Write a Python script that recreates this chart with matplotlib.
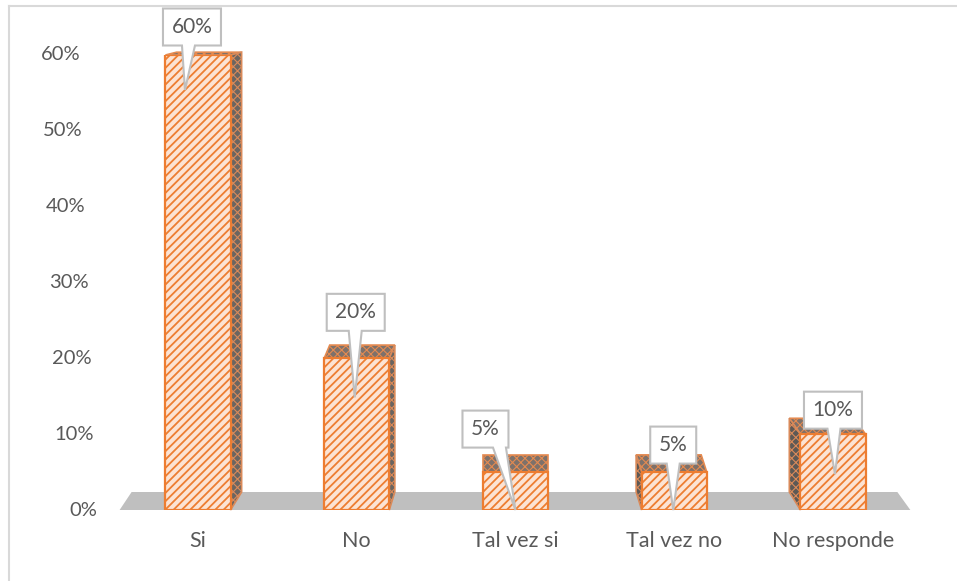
import matplotlib
matplotlib.use('Agg')
import matplotlib.pyplot as plt
from matplotlib.patches import Polygon
from matplotlib.transforms import IdentityTransform
from matplotlib.lines import Line2D

# data
categories = ['Si', 'No', 'Tal vez si', 'Tal vez no', 'No responde']
values = [0.60, 0.20, 0.05, 0.05, 0.10]
yticks = [0.0, 0.1, 0.2, 0.3, 0.4, 0.5, 0.6]

# callout placement in pixels, relative to bar top centre: (box dx, box up, tip dx, tip down)
callout_pos = [(-6, 28, -13, 35), (-1, 46, -2, 39), (-30, 43, 0, 38),
               (-1, 27, -1, 38), (0, 24, 2, 40)]

orange = '#ED7D31'
grey_txt = '#595959'

plt.rcParams['font.family'] = ['Lato', 'DejaVu Sans']
plt.rcParams['hatch.linewidth'] = 1.3

W, H = 957, 581
fig = plt.figure(figsize=(W / 100, H / 100), dpi=100)
ax = fig.add_axes([118.6 / W, (H - 510) / H, 793.75 / W, 455 / H])
ax.set_xlim(-0.5, 4.5)
ax.set_ylim(0, 0.6)
ax.axis('off')

ID = IdentityTransform()


def px(x, y):
    # image pixel (y down) -> display coords
    return (x, H - y)


def to_img(xd, yd):
    dx, dy = ax.transData.transform((xd, yd))
    return dx, H - dy


def poly(pts, hlw=None, **kw):
    p = Polygon([px(*p) for p in pts], closed=True, transform=ID, clip_on=False, **kw)
    if hlw is not None and hasattr(p, 'set_hatch_linewidth'):
        p.set_hatch_linewidth(hlw)
    ax.add_patch(p)
    return p


# frame lines
fig.add_artist(Line2D([9, W], [H - 6, H - 6], transform=ID, color='#D9D9D9', lw=1.5))
fig.add_artist(Line2D([9, 9], [0, H - 6], transform=ID, color='#D9D9D9', lw=1.5))

# floor
x0, y0 = to_img(-0.5, 0)
x1, _ = to_img(4.5, 0)
poly([(x0 + 1, y0), (x1 - 2, y0), (x1 - 15, y0 - 18), (x0 + 13, y0 - 18)],
     facecolor='#BFBFBF', edgecolor='none', zorder=1)

# front faces
bars = ax.bar(range(len(values)), values, width=0.41, facecolor='#FCE3D3',
              edgecolor=orange, hatch='////', linewidth=1.6, zorder=3)

vx = to_img(2, 0)[0]
for i, (b, v) in enumerate(zip(bars, values)):
    xl, yt = to_img(b.get_x(), v)
    xr, yb = to_img(b.get_x() + b.get_width(), 0)
    depth = 17 * (0.65 - v) / 0.65 + 1.5
    shift = 0.035 * (vx - (xl + xr) / 2)
    # top face
    poly([(xl, yt), (xr, yt), (xr + shift, yt - depth), (xl + shift, yt - depth)],
         hlw=0.8, facecolor='#7E716A', edgecolor='#E58A50', hatch='xxxx',
         linewidth=1.2, zorder=2)
    # side face
    if shift > 1:
        poly([(xr, yb), (xr, yt), (xr + shift, yt - depth), (xr + shift, yb - 18)],
             hlw=0.8, facecolor='#6A6561', edgecolor='#D98A5A', hatch='xxxx',
             linewidth=1.2, zorder=2)
    elif shift < -1:
        poly([(xl, yb), (xl, yt), (xl + shift, yt - depth), (xl + shift, yb - 18)],
             hlw=0.8, facecolor='#5E5955', edgecolor='#D98A5A', hatch='xxxx',
             linewidth=1.2, zorder=2)

    # callout
    bdx, bup, tdx, tdown = callout_pos[i]
    label = f'{round(v * 100)}%'
    cx = (xl + xr) / 2
    bw = 58 if len(label) > 2 else 46
    bh = 37
    bcx = cx + bdx
    bcy = yt - bup
    tipx, tipy = cx + tdx, yt + tdown
    basec = (bcx + tipx) / 2
    basec = min(max(basec, bcx - bw / 2 + 9), bcx + bw / 2 - 9)
    poly([(bcx - bw / 2, bcy - bh / 2), (bcx + bw / 2, bcy - bh / 2),
          (bcx + bw / 2, bcy + bh / 2), (basec + 6.5, bcy + bh / 2),
          (tipx, tipy), (basec - 6.5, bcy + bh / 2), (bcx - bw / 2, bcy + bh / 2)],
         facecolor='white', edgecolor='#BFBFBF', linewidth=1.5, zorder=5)
    ax.text(*px(bcx, bcy), label, transform=ID, ha='center', va='center',
            fontsize=15, color=grey_txt, zorder=6)

# y tick labels (slanted as in the perspective view)
for t in yticks:
    _, ty = to_img(0, t)
    ax.text(*px(97 - 17 * t / 0.6, ty), f'{round(t * 100)}%', transform=ID,
            ha='right', va='center', fontsize=14.5, color=grey_txt)

# category labels
for i, c in enumerate(categories):
    cx, _ = to_img(i, 0)
    ax.text(*px(cx, 541), c, transform=ID, ha='center', va='center',
            fontsize=15.5, color=grey_txt)

fig.savefig('out.png', dpi=100)
